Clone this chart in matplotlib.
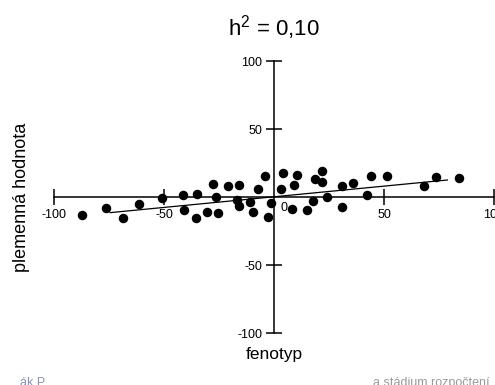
import matplotlib
matplotlib.use("Agg")
import matplotlib.pyplot as plt

plt.rcParams['font.family'] = ['Liberation Sans', 'DejaVu Sans']
plt.rcParams['mathtext.fontset'] = 'custom'
plt.rcParams['mathtext.rm'] = 'Liberation Sans'
plt.rcParams['mathtext.it'] = 'Liberation Sans'

# data
fenotyp = [-87.4, -76.5, -68.6, -61.2, -51.0, -41.2, -40.9, -34.9, -35.3, -30.6,
           -27.6, -26.5, -25.3, -20.8, -16.1, -17.0, -16.1, -10.9, -9.7, -7.1,
           -4.1, -2.9, -1.4, 3.2, 4.2, 8.3, 10.3, 9.1, 14.8, 17.6,
           18.8, 21.7, 21.7, 23.9, 30.8, 30.8, 36.0, 42.1, 44.1, 51.2,
           68.3, 73.5, 84.2]
hodnota = [-13.2, -7.8, -15.7, -5.4, -1.0, 1.5, -9.6, 2.4, -15.2, -10.8,
           9.8, 0.0, -11.5, 8.1, 9.1, -2.5, -6.6, -3.4, -10.8, 5.6,
           15.7, -15.0, -4.2, 5.6, 17.4, -9.1, 16.2, 9.1, -9.6, -2.7,
           13.5, 19.4, 10.8, 0.0, 8.3, -7.1, 10.5, 1.2, 15.2, 15.7,
           8.3, 14.9, 14.0]
line_x = [-74.5, 78.8]
line_y = [-11.5, 12.5]
xticks = [-100, -50, 50, 100]
yticks = [-100, -50, 50, 100]

W, H = 495, 385
fig = plt.figure(figsize=(W / 100, H / 100), dpi=100)
ax = fig.add_axes([54 / W, 52 / H, 440 / W, 272 / H])

ax.scatter(fenotyp, hodnota, s=34, color='black', zorder=3, clip_on=False)
ax.plot(line_x, line_y, color='black', lw=0.9, zorder=2)

ax.set_xlim(-100, 100)
ax.set_ylim(-100, 100)
for s in ['top', 'right']:
    ax.spines[s].set_visible(False)
for s in ['left', 'bottom']:
    ax.spines[s].set_position('zero')
    ax.spines[s].set_linewidth(1.1)

ax.set_xticks(xticks)
ax.set_xticklabels([str(v) for v in xticks])
ax.set_yticks(yticks)
ax.set_yticklabels([str(v) for v in yticks])
ax.tick_params(axis='both', direction='inout', length=11.5, width=1.1,
               labelsize=9, colors='black')
ax.tick_params(axis='x', pad=3)
ax.tick_params(axis='y', pad=2.5)
ax.text(4.5, -8, '0', ha='center', va='center', fontsize=9)

fig.text(274 / W, 1 - 35 / H, 'h$^{2}$ = 0,10', ha='center', va='baseline', fontsize=16)
fig.text(274 / W, 1 - 355 / H, 'fenotyp', ha='center', va='center', fontsize=12.5)
fig.text(22 / W, 1 - 197 / H, 'plemenná hodnota', rotation=90,
         ha='center', va='center', fontsize=13)

# cut-off slide footer
fig.text(20 / W, -4 / H, 'ák P.', ha='left', va='bottom', fontsize=9, color='#8a93b0')
fig.text(490 / W, -4 / H, 'a stádium rozpočtení', ha='right', va='bottom',
         fontsize=9, color='#9a9a9a')

fig.savefig('out.png', dpi=100)
